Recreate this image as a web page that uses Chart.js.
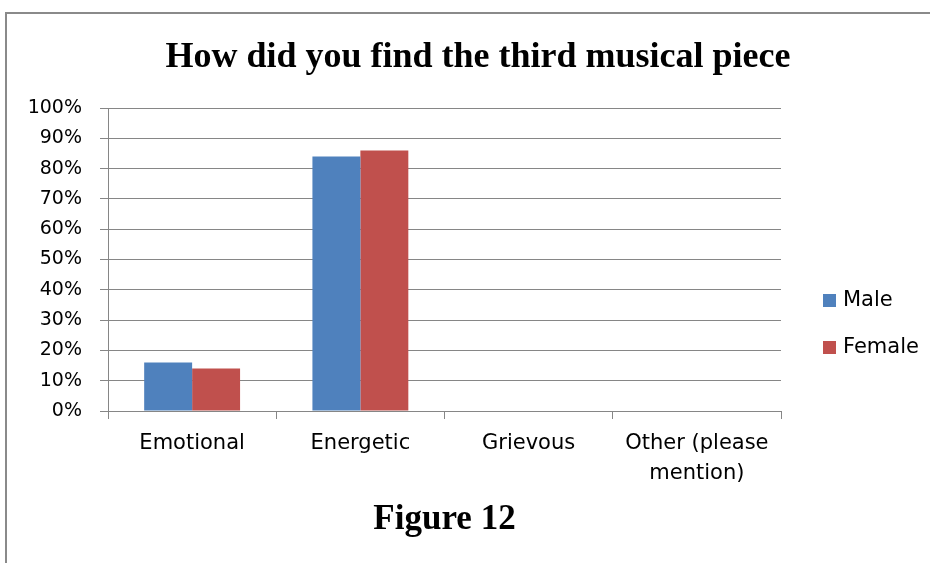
<!DOCTYPE html>
<html>
<head>
<meta charset="utf-8">
<script src="https://cdn.jsdelivr.net/npm/chart.js@4"></script>
<style>
html, body { margin: 0; padding: 0; background: #fff; }
#wrap { position: relative; width: 930px; height: 563px; overflow: hidden; }
#frame { position: absolute; left: 5px; top: 12px; width: 980px; height: 620px;
         border-left: 2px solid #8a8a8a; border-top: 2px solid #8a8a8a; }
canvas { position: absolute; left: 0; top: 0; }
</style>
</head>
<body>
<div id="wrap">
  <div id="frame"></div>
  <canvas id="chart" width="930" height="563"></canvas>
</div>
<script>
const categories = ['Emotional', 'Energetic', 'Grievous', ['Other (please', 'mention)']];
const maleValues = [0.16, 0.84, 0, 0];
const femaleValues = [0.14, 0.86, 0, 0];
const seriesNames = ['Male', 'Female'];
const seriesColors = ['#4F81BD', '#C0504D'];

const GRID = '#868686';
const SANS = "'DejaVu Sans', sans-serif";
const SERIF = "'Liberation Serif', 'Times New Roman', serif";

// legend drawn beside the plot, like the office-style chart
const sideLegend = {
    id: 'sideLegend',
    afterDraw(chart) {
        const ctx = chart.ctx;
        const x = chart.chartArea.right + 42;
        const rows = [300, 347];
        ctx.save();
        ctx.font = '21px ' + SANS;
        ctx.textBaseline = 'middle';
        chart.data.datasets.forEach((ds, i) => {
            ctx.fillStyle = ds.backgroundColor;
            ctx.fillRect(x, rows[i] - 6, 13, 13);
            ctx.fillStyle = '#000';
            ctx.fillText(ds.label, x + 20, rows[i] + 1);
        });
        ctx.restore();
    }
};

new Chart(document.getElementById('chart').getContext('2d'), {
    type: 'bar',
    data: {
        labels: categories,
        datasets: [
            { label: seriesNames[0], data: maleValues, backgroundColor: seriesColors[0] },
            { label: seriesNames[1], data: femaleValues, backgroundColor: seriesColors[1] }
        ]
    },
    options: {
        responsive: false,
        animation: false,
        events: [],
        layout: { padding: { left: 26, right: 0, top: 36, bottom: 22 } },
        datasets: { bar: { categoryPercentage: 0.57, barPercentage: 1.0, borderWidth: 0 } },
        scales: {
            x: {
                grid: { drawOnChartArea: false, drawTicks: true, tickLength: 8, color: GRID, offset: true },
                border: { display: true, color: GRID, width: 1 },
                ticks: { color: '#000', padding: 9, maxRotation: 0, autoSkip: false,
                         font: { family: SANS, size: 21, lineHeight: 1.45 } },
                afterFit(s) { s.height = 88; }
            },
            y: {
                min: 0,
                max: 1,
                grid: { color: GRID, tickLength: 8, drawTicks: true },
                border: { display: true, color: GRID, width: 1 },
                ticks: { stepSize: 0.1, color: '#000', padding: 18,
                         font: { family: SANS, size: 19 },
                         callback: v => Math.round(v * 100) + '%' },
                afterFit(s) { s.width = 82; }
            },
            // empty right-hand box that reserves room for the legend
            side: {
                type: 'linear',
                position: 'right',
                grid: { display: false },
                border: { display: false },
                ticks: { display: false },
                afterFit(s) { s.width = 149; }
            }
        },
        plugins: {
            legend: { display: false },
            tooltip: { enabled: false },
            title: {
                display: true,
                text: 'How did you find the third musical piece',
                color: '#000',
                font: { family: SERIF, size: 36, weight: 'bold', lineHeight: 1.2 },
                padding: { top: 0, bottom: 28.8 }
            },
            subtitle: {
                display: true,
                position: 'bottom',
                fullSize: false,
                text: 'Figure 12',
                color: '#000',
                font: { family: SERIF, size: 35, weight: 'bold', lineHeight: 1.2 },
                padding: { top: 0, bottom: 0 }
            }
        }
    },
    plugins: [sideLegend]
});
</script>
</body>
</html>
